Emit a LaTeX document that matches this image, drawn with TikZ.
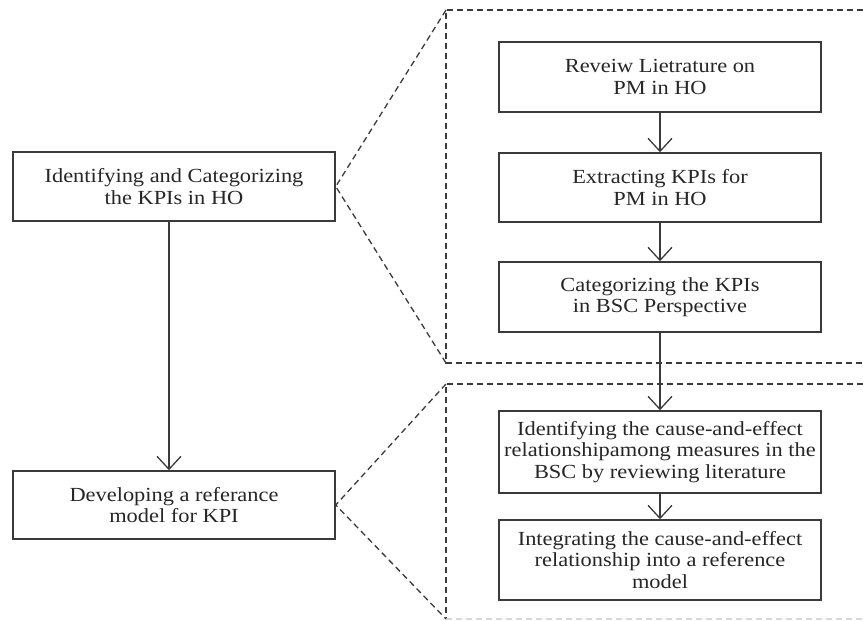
\documentclass[tikz,border=0pt]{standalone}
\usepackage{fontspec}
\setmainfont{Liberation Serif}[FakeStretch=1.12]
\usetikzlibrary{arrows.meta}
\definecolor{ink}{HTML}{3A3A3A}
\definecolor{lettering}{HTML}{262626}
\definecolor{faint}{HTML}{D8D8D8}
\begin{document}
\begin{tikzpicture}[x=1pt,y=-1pt,
  stepbox/.style={draw=ink, line width=1.5pt, minimum width=322pt, inner sep=0pt,
                  align=center, text=lettering, font=\fontsize{20}{21.5}\selectfont},
  flow/.style={draw=ink, line width=1.3pt, -{Straight Barb[length=13pt,width=24pt]}},
  zoomline/.style={draw=ink, line width=1.3pt, dash pattern=on 6pt off 4pt}]
\useasboundingbox (0,0) rectangle (863,621);

% main stages
\node[stepbox, minimum height=69pt] (L1) at (174,186.5) {Identifying and Categorizing\\the KPIs in HO};
\node[stepbox, minimum height=68pt] (L2) at (174,505) {Developing a referance\\model for KPI};

% detailed steps of stage one
\node[stepbox, minimum height=70pt] (R1) at (660,77) {Reveiw Lietrature on\\PM in HO};
\node[stepbox, minimum height=69pt] (R2) at (660,187.5) {Extracting KPIs for\\PM in HO};
\node[stepbox, minimum height=70pt] (R3) at (660,297) {Categorizing the KPIs\\in BSC Perspective};

% detailed steps of stage two
\node[stepbox, minimum height=82pt] (R4) at (660,452) {Identifying the cause-and-effect\\relationshipamong measures in the\\BSC by reviewing literature};
\node[stepbox, minimum height=80pt] (R5) at (660,560) {Integrating the cause-and-effect\\relationship into a reference\\model};

% flow arrows
\draw[flow] ([xshift=-5pt]L1.south) -- ([xshift=-5pt]L2.north);
\draw[flow] (R1) -- (R2);
\draw[flow] (R2) -- (R3);
\draw[flow] (R3) -- (R4);
\draw[flow] (R4) -- (R5);

% detail frames
\coordinate (F1a) at (446,10);
\coordinate (F1b) at (446,363);
\coordinate (F1c) at (863,10);
\coordinate (F1d) at (863,363);
\coordinate (F2a) at (446,384);
\coordinate (F2b) at (446,619);
\coordinate (F2c) at (863,384);
\coordinate (F2d) at (863,619);

\draw[zoomline] (F1c) -- (F1a) -- (F1b) -- (F1d);
\draw[zoomline] (F2c) -- (F2a) -- (F2b);
\draw[zoomline, draw=faint] (F2b) -- (F2d);

% zoom lines from each stage to its frame
\draw[zoomline] (F1a) -- (L1.east) -- (F1b);
\draw[zoomline] (F2a) -- (L2.east) -- (F2b);
\end{tikzpicture}
\end{document}
